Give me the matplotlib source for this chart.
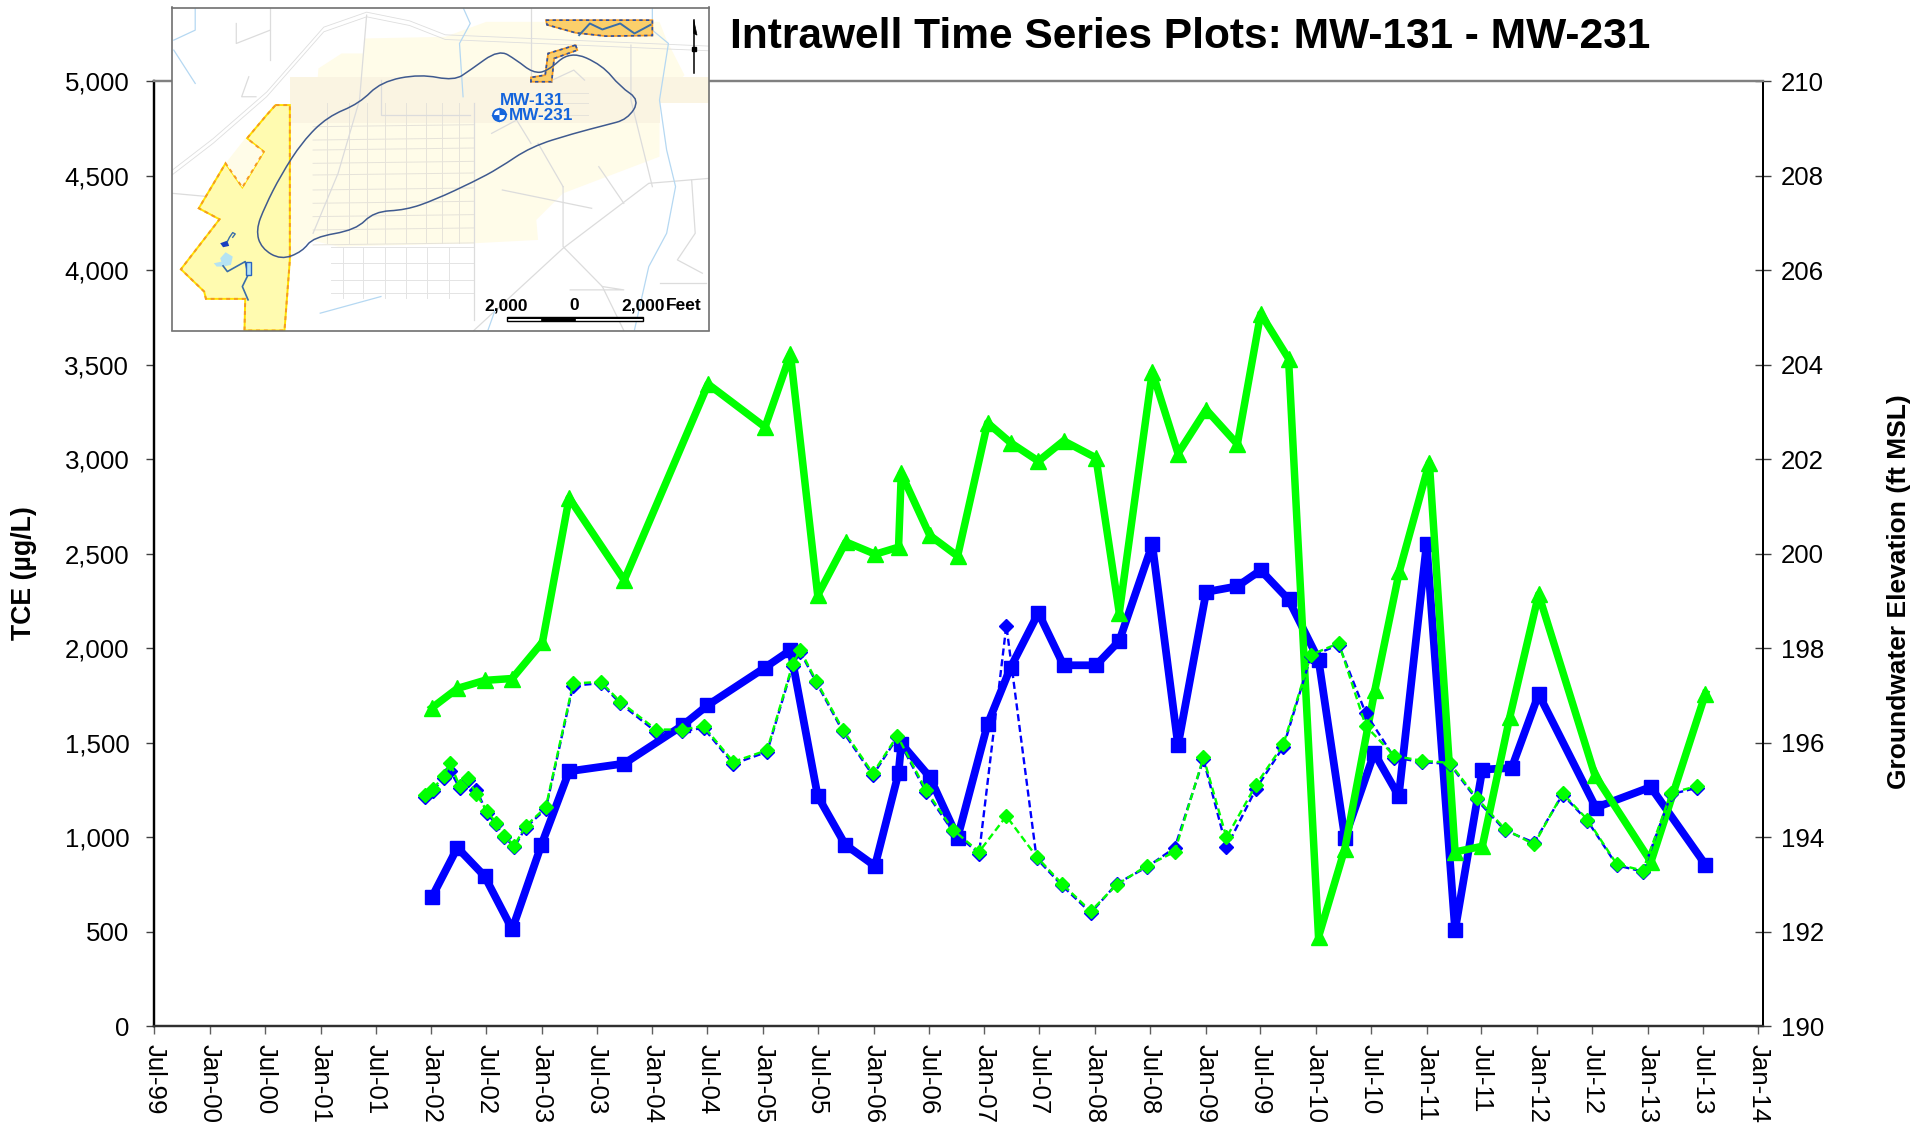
"""
Intrawell time series for MW-131 and MW-231, with the site map in the corner.
"""

import matplotlib
matplotlib.use("Agg")
import matplotlib.dates as mdates
import matplotlib.pyplot as plt
import pandas as pd
from matplotlib.patches import Circle, PathPatch, Polygon, Rectangle
from matplotlib.path import Path
from matplotlib.ticker import FuncFormatter

plt.rcParams["font.family"] = ["Liberation Sans", "DejaVu Sans"]

tce_131_dates = [
    "2002-01-03", "2002-03-28", "2002-06-26", "2002-09-25", "2002-12-30", "2003-04-01",
    "2003-09-30", "2004-04-11", "2004-07-01", "2005-01-07", "2005-04-01", "2005-06-30",
    "2005-09-29", "2006-01-05", "2006-03-24", "2006-04-02", "2006-07-05", "2006-10-05",
    "2007-01-12", "2007-03-29", "2007-06-29", "2007-09-20", "2008-01-05", "2008-03-22",
    "2008-07-09", "2008-10-02", "2009-01-03", "2009-04-16", "2009-07-02", "2009-10-02",
    "2010-01-09", "2010-04-06", "2010-07-12", "2010-10-01", "2011-01-01", "2011-04-05",
    "2011-07-04", "2011-10-09", "2012-01-06", "2012-07-13", "2013-01-10", "2013-07-10",
]
tce_131 = [
    684, 945, 794, 513, 958, 1349, 1390, 1593, 1698, 1898, 1990, 1218, 961, 848, 1340,
    1496, 1319, 998, 1598, 1898, 2187, 1910, 1910, 2039, 2549, 1487, 2298, 2328, 2413,
    2258, 1940, 998, 1446, 1218, 2552, 508, 1358, 1367, 1757, 1157, 1266, 855,
]

elev_dates = [
    "2002-01-03", "2002-03-28", "2002-06-26", "2002-09-25", "2003-01-03", "2003-04-01",
    "2003-09-30", "2004-07-03", "2005-01-07", "2005-04-01", "2005-06-30", "2005-10-01",
    "2006-01-06", "2006-03-24", "2006-04-02", "2006-07-05", "2006-10-05", "2007-01-12",
    "2007-03-29", "2007-06-29", "2007-09-20", "2008-01-05", "2008-03-22", "2008-07-09",
    "2008-10-02", "2009-01-03", "2009-04-16", "2009-07-02", "2009-10-02", "2010-01-09",
    "2010-04-06", "2010-07-14", "2010-10-03", "2011-01-10", "2011-04-05", "2011-07-04",
    "2011-10-03", "2012-01-06", "2012-07-10", "2013-01-11", "2013-07-10",
]
elev_131 = [
    196.74, 197.15, 197.32, 197.36, 198.13, 201.18, 199.44, 203.59, 202.68, 204.22,
    199.12, 200.25, 199.99, 200.14, 201.70, 200.39, 199.95, 202.77, 202.35, 201.96,
    202.39, 202.03, 198.75, 203.85, 202.12, 203.05, 202.32, 205.08, 204.13, 191.89,
    193.76, 197.11, 199.63, 201.93, 193.69, 193.81, 196.55, 199.14, 195.31, 193.48,
    197.04,
]

tce_231_dates = [
    "2001-12-12", "2002-01-06", "2002-02-11", "2002-03-04", "2002-04-04", "2002-05-01",
    "2002-05-30", "2002-07-04", "2002-08-02", "2002-08-30", "2002-10-02", "2002-11-08",
    "2003-01-14", "2003-04-14", "2003-07-15", "2003-09-17", "2004-01-13", "2004-04-08",
    "2004-06-18", "2004-09-24", "2005-01-14", "2005-04-08", "2005-05-03", "2005-06-25",
    "2005-09-21", "2005-12-29", "2006-03-20", "2006-06-23", "2006-09-19", "2006-12-15",
    "2007-03-15", "2007-06-23", "2007-09-14", "2007-12-19", "2008-03-14", "2008-06-21",
    "2008-09-21", "2008-12-25", "2009-03-11", "2009-06-16", "2009-09-15", "2009-12-15",
    "2010-03-17", "2010-06-14", "2010-09-16", "2010-12-16", "2011-03-18", "2011-06-15",
    "2011-09-17", "2011-12-22", "2012-03-25", "2012-06-15", "2012-09-20", "2012-12-15",
    "2013-03-19", "2013-06-13",
]
tce_231 = [
    1213, 1245, 1315, 1352, 1262, 1302, 1250, 1128, 1068, 1002, 948, 1050, 1150, 1802,
    1815, 1708, 1558, 1562, 1578, 1388, 1452, 1905, 1982, 1820, 1560, 1328, 1528, 1238,
    1032, 914, 2120, 888, 746, 600, 755, 842, 944, 1412, 946, 1255, 1479, 1958, 2018,
    1656, 1422, 1398, 1388, 1200, 1036, 972, 1226, 1088, 852, 818, 1228, 1262,
]
tce_231_dup = [
    1223, 1255, 1324, 1394, 1271, 1311, 1228, 1138, 1078, 1009, 956, 1059, 1158, 1814,
    1822, 1717, 1570, 1570, 1588, 1399, 1461, 1915, 1991, 1828, 1570, 1338, 1537, 1249,
    1041, 923, 1112, 897, 755, 609, 750, 849, 923, 1423, 999, 1276, 1492, 1965, 2027,
    1589, 1431, 1405, 1394, 1209, 1043, 962, 1232, 1094, 858, 824, 1235, 1271,
]

left_ticks = [0, 500, 1000, 1500, 2000, 2500, 3000, 3500, 4000, 4500, 5000]
right_ticks = [190, 192, 194, 196, 198, 200, 202, 204, 206, 208, 210]

BLUE = "#0000ff"
GREEN = "#00ff00"
W, H = 1933, 1136


def style_ticks(ax):
    ax.xaxis.set_major_locator(mdates.MonthLocator(bymonth=(1, 7)))
    ax.xaxis.set_major_formatter(mdates.DateFormatter("%b-%y"))
    for label in ax.get_xticklabels():
        label.set_rotation(270)
        label.set_ha("center")
        label.set_va("top")


def smooth_closed(points):
    """Closed curve running through the midpoints of the given control points."""
    n = len(points)
    mid = lambda a, b: ((a[0] + b[0]) / 2, (a[1] + b[1]) / 2)
    verts = [mid(points[-1], points[0])]
    codes = [Path.MOVETO]
    for i in range(n):
        verts += [points[i], mid(points[i], points[(i + 1) % n])]
        codes += [Path.CURVE3, Path.CURVE3]
    return Path(verts, codes)


def draw_map(fig):
    """Site map, drawn in the pixel grid of the zoomed inset."""
    m = fig.add_axes([172 / W, 1 - 330.5 / H, 537.5 / W, 323 / H], zorder=10)
    m.set_xlim(35, 1540)
    m.set_ylim(992, 22)
    m.set_xticks([])
    m.set_yticks([])
    for s in m.spines.values():
        s.set_color("#707070")
        s.set_linewidth(1.2)

    pale = [(575, 115), (800, 110), (915, 65), (1400, 65), (1420, 120), (1470, 225),
            (1400, 310), (1400, 470), (1130, 580), (1055, 660), (1060, 720), (880, 730),
            (500, 740), (420, 720), (365, 780), (365, 320), (440, 275), (445, 205),
            (510, 160), (570, 160)]
    m.add_patch(Polygon(pale, fc="#fffce9", ec="none", zorder=1))
    m.add_patch(Rectangle((365, 232), 1035, 136, fc="#faf4e2", ec="none", zorder=1.1))
    m.add_patch(Rectangle((1400, 232), 140, 78, fc="#faf4e2", ec="none", zorder=1.1))

    # railway bundle and main roads
    for off in (0, 14):
        m.plot([35, 150, 300, 460, 580, 700, 800, 1540],
               [525 - off, 430 - off, 290 - off, 95 - off, 50 - off, 76 - off, 118 - off, 152 - off],
               color="#dedede", lw=0.6, zorder=1.4)
    roads = [
        [(580, 45), (560, 300), (500, 520), (430, 700)],
        [(1040, 22), (1040, 230)], [(310, 22), (310, 180)], [(215, 70), (215, 130), (310, 90)],
        [(880, 310), (880, 960)],
        [(1130, 560), (1130, 740), (1240, 860), (1300, 992)],
        [(880, 992), (1130, 745), (1370, 550), (1540, 535)],
        [(960, 570), (1210, 625)], [(1230, 500), (1300, 610)], [(1060, 430), (1130, 560)],
        [(1490, 540), (1500, 700), (1450, 780), (1520, 820)], [(1150, 870), (1300, 870), (1240, 860)],
        [(1400, 850), (1530, 850)], [(1320, 135), (1320, 300), (1380, 560)],
        [(1100, 240), (1160, 210), (1190, 240)], [(1040, 430), (1000, 360), (930, 400)],
        [(240, 600), (35, 580)], [(250, 230), (230, 290), (270, 290)],
        [(620, 240), (620, 345), (870, 345)],
    ]
    for r in roads:
        xs, ys = zip(*r)
        m.plot(xs, ys, color="#dcdcdc", lw=0.9, zorder=1.5)

    # street grid
    for y in (380, 420, 450, 490, 525, 570, 610, 650, 690, 735):
        m.plot([430, 880], [y, y - 6], color="#e6e3da", lw=0.7, zorder=1.45)
    for x in (470, 530, 580, 630, 690, 745, 790, 840):
        m.plot([x, x], [310, 730], color="#e6e3da", lw=0.7, zorder=1.45)
    for y in (740, 790, 840, 880):
        m.plot([480, 880], [y, y], color="#e4e4e4", lw=0.7, zorder=1.45)
    for x in (515, 570, 630, 690, 750, 810):
        m.plot([x, x], [740, 895], color="#e4e4e4", lw=0.7, zorder=1.45)
    for y in (280, 310, 345):
        m.plot([1110, 1200], [y, y], color="#e6e3da", lw=0.7, zorder=1.45)

    # streams
    streams = [
        [(1380, 22), (1380, 90), (1425, 130), (1400, 300), (1420, 450), (1445, 560), (1420, 700), (1370, 800), (1330, 990)],
        [(850, 22), (870, 70), (840, 130), (850, 290)],
        [(100, 22), (100, 90), (40, 120)], [(40, 150), (100, 250)],
        [(920, 990), (940, 930)], [(450, 940), (620, 890)],
    ]
    for s in streams:
        xs, ys = zip(*s)
        m.plot(xs, ys, color="#b5d8f2", lw=0.9, zorder=1.6)

    # yellow parcels
    parcel = [(325, 315), (365, 315), (365, 780), (350, 992), (238, 992), (240, 897),
              (130, 897), (125, 875), (60, 808), (168, 658), (110, 625), (185, 490),
              (232, 562), (292, 455), (245, 415), (300, 345)]
    m.add_patch(Polygon(parcel, fc="#fffbb0", ec="#ffe000", lw=1.4, zorder=2))
    m.add_patch(Polygon(parcel, fc="none", ec="#f59a23", lw=1.4, ls=(0, (2, 2)), zorder=2.1))
    hole = [(185, 490), (240, 415), (292, 455), (232, 562)]
    m.add_patch(Polygon(hole, fc="#fffce8", ec="none", zorder=2.05))

    for poly in (
        [(1082, 60), (1380, 60), (1380, 106), (1250, 108), (1165, 98), (1085, 74)],
        [(1165, 135), (1170, 150), (1105, 175), (1098, 245), (1040, 245), (1040, 232),
         (1080, 225), (1088, 160)],
    ):
        m.add_patch(Polygon(poly, fc="#fbcf6b", ec="#f59a23", lw=1.2, zorder=3))
        m.add_patch(Polygon(poly, fc="none", ec="#2a52a8", lw=1.2, ls=(0, (2, 2)), zorder=3.1))
    m.plot([1175, 1205, 1240, 1290, 1330, 1375], [105, 70, 88, 70, 100, 74], color="#3a6ea8", lw=1.4, zorder=3.2)

    # ponds and creek in the parcel
    m.add_patch(Polygon([(170, 775), (185, 757), (205, 770), (200, 795), (178, 800)], fc="#b5e3f2", ec="none", zorder=3))
    m.add_patch(Polygon([(152, 790), (175, 785), (178, 800), (160, 800)], fc="#b5e3f2", ec="none", zorder=3))
    m.add_patch(Polygon([(170, 730), (190, 722), (195, 738), (178, 742)], fc="#1a3fc0", ec="none", zorder=3))
    m.plot([190, 196, 205, 212, 205], [725, 712, 698, 702, 712], color="#3a6ea8", lw=1.0, zorder=3)
    m.plot([178, 190, 240, 248, 232, 248], [798, 815, 785, 825, 860, 900], color="#3a6ea8", lw=1.2, zorder=3)
    m.add_patch(Rectangle((241, 785), 15, 40, fc="#b5e3f2", ec="#2a62c0", lw=1.0, zorder=3))

    # plume outline
    plume = [(340, 780), (285, 745), (270, 690), (295, 620), (340, 525), (400, 425),
             (470, 350), (560, 310), (620, 245), (730, 222), (825, 242), (870, 210),
             (950, 148), (1000, 180), (1045, 218), (1085, 215), (1150, 152), (1240, 195),
             (1290, 260), (1345, 300), (1310, 358), (1250, 375), (1160, 400), (1040, 440),
             (950, 505), (880, 545), (770, 600), (690, 630), (600, 635), (550, 690),
             (430, 712), (400, 755)]
    m.add_patch(PathPatch(smooth_closed(plume), fc="none", ec="#3f5a8f", lw=1.1, zorder=4))

    # well marker and labels
    well = "#1464dc"
    m.add_patch(Circle((952, 345), 18, fc="white", ec=well, lw=1.4, zorder=5))
    m.add_patch(Polygon([(952, 322), (975, 345), (952, 345)], fc=well, ec="none", zorder=5.1))
    m.add_patch(Polygon([(952, 368), (929, 345), (952, 345)], fc=well, ec="none", zorder=5.1))
    m.text(1042, 300, "MW-131", color=well, fontsize=12.3, fontweight="bold", ha="center", va="center", zorder=6)
    m.text(1068, 347, "MW-231", color=well, fontsize=12.3, fontweight="bold", ha="center", va="center", zorder=6)

    # scale bar
    for txt, x in (("2,000", 970), ("0", 1162), ("2,000", 1355)):
        m.text(x, 918, txt, color="black", fontsize=12.5, fontweight="bold", ha="center", va="center", zorder=6)
    m.text(1468, 918, "Feet", color="black", fontsize=12.5, fontweight="bold", ha="center", va="center", zorder=6)
    m.add_patch(Rectangle((972, 950), 383, 14, fc="white", ec="black", lw=1.0, zorder=6))
    m.add_patch(Rectangle((1068, 955), 96, 9, fc="black", ec="black", lw=0.5, zorder=6.1))
    m.add_patch(Rectangle((972, 950), 383, 6, fc="black", ec="none", zorder=6.1))

    # north arrow
    m.plot([1496, 1496], [60, 218], color="black", lw=1.1, zorder=6)
    m.add_patch(Polygon([(1496, 60), (1505, 105), (1496, 100)], fc="black", ec="black", lw=0.5, zorder=6))
    m.plot([1496], [147], marker="s", ms=2.5, color="black", zorder=6)


fig = plt.figure(figsize=(W / 100, H / 100), dpi=100, facecolor="white")
rect = [154.3 / W, 1 - 1026.3 / H, (1762.7 - 154.3) / W, (1026.3 - 81.2) / H]

ax = fig.add_axes(rect)
ax2 = ax.twinx()
ax3 = ax.twinx()

ax.plot(pd.to_datetime(tce_131_dates), tce_131, color=BLUE, lw=5.6, marker="s", ms=10.5,
        solid_joinstyle="round", clip_on=False)
ax2.plot(pd.to_datetime(elev_dates), elev_131, color=GREEN, lw=5.4, marker="^", ms=11.5,
         solid_joinstyle="round", clip_on=False)
ax3.plot(pd.to_datetime(tce_231_dates), tce_231, color=BLUE, lw=1.7, ls=(0, (3, 1.6)),
         marker="D", ms=7.4)
ax3.plot(pd.to_datetime(tce_231_dates), tce_231_dup, color=GREEN, lw=1.7, ls=(0, (3, 1.6)),
         marker="D", ms=7.4)

xlim = mdates.date2num(pd.to_datetime(["1999-07-01", "2014-01-15"]))
ax.set_xlim(xlim)
ax.set_ylim(0, 5000)
ax2.set_ylim(190, 210)
ax3.set_ylim(0, 5000)
ax3.axis("off")

style_ticks(ax)
ax.set_yticks(left_ticks)
ax.yaxis.set_major_formatter(FuncFormatter(lambda v, _: f"{int(v):,}"))
ax.tick_params(axis="y", labelsize=18.6, length=6, width=1.0, color="#404040", pad=12)
ax.tick_params(axis="x", labelsize=18.6, length=6, width=1.0, color="#606060", pad=6.5)
ax2.set_yticks(right_ticks)
ax2.tick_params(axis="y", labelsize=18.6, direction="inout", length=12, width=1.0, color="#404040", pad=7)

for a in (ax, ax2):
    a.spines["top"].set_color("#808080")
    a.spines["top"].set_linewidth(1.6)
    a.spines["left"].set_linewidth(1.6)
    a.spines["bottom"].set_linewidth(1.6)
    a.spines["bottom"].set_color("#303030")
    a.spines["right"].set_linewidth(1.4)
    a.patch.set_visible(False)
ax.patch.set_visible(True)

fig.text(1190 / W, 1 - 37 / H, "Intrawell Time Series Plots: MW-131 - MW-231",
         fontsize=30.6, fontweight="bold", ha="center", va="center")
fig.text(24 / W, 1 - 573 / H, "TCE (\u00b5g/L)", fontsize=19.2, fontweight="bold",
         rotation=90, ha="center", va="center")
fig.text(1899 / W, 1 - 592 / H, "Groundwater Elevation (ft MSL)", fontsize=19, fontweight="bold",
         rotation=90, ha="center", va="center")

draw_map(fig)

fig.savefig("out.png", dpi=100)
